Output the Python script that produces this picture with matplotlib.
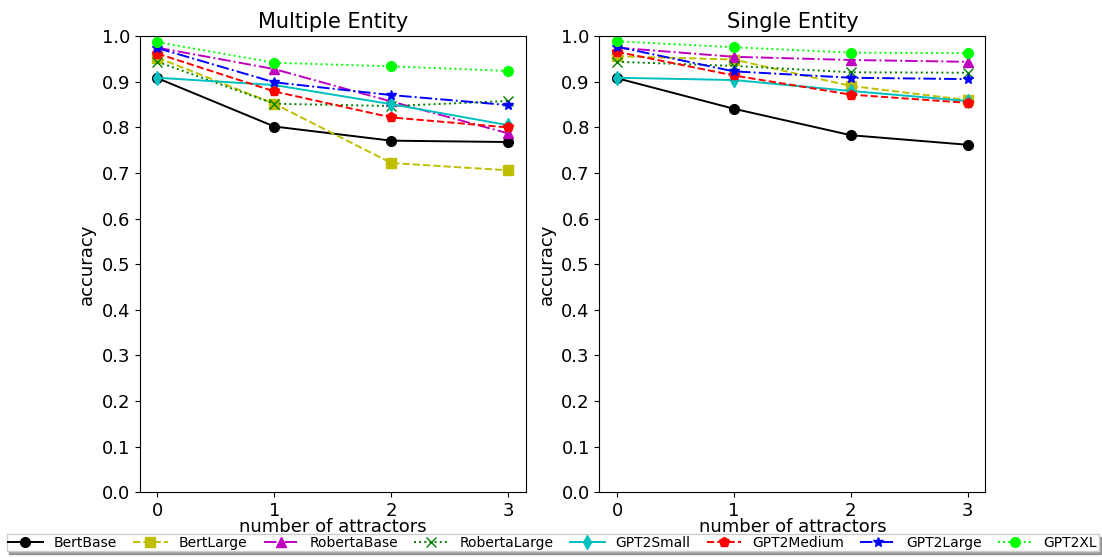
import numpy as np
import matplotlib.pyplot as plt

# accuracy vs number of attractors
attractors = [0, 1, 2, 3]
models = ['BertBase', 'BertLarge', 'RobertaBase', 'RobertaLarge',
          'GPT2Small', 'GPT2Medium', 'GPT2Large', 'GPT2XL']

multi_bert_base = [0.908, 0.802, 0.771, 0.768]
multi_bert_large = [0.953, 0.852, 0.722, 0.706]
multi_roberta_base = [0.975, 0.928, 0.857, 0.787]
multi_roberta_large = [0.944, 0.852, 0.847, 0.858]
multi_gpt2_small = [0.909, 0.893, 0.851, 0.805]
multi_gpt2_medium = [0.962, 0.879, 0.822, 0.800]
multi_gpt2_large = [0.974, 0.899, 0.871, 0.849]
multi_gpt2_xl = [0.987, 0.942, 0.934, 0.924]

single_bert_base = [0.908, 0.841, 0.783, 0.762]
single_bert_large = [0.956, 0.949, 0.891, 0.860]
single_roberta_base = [0.975, 0.955, 0.948, 0.944]
single_roberta_large = [0.944, 0.935, 0.921, 0.920]
single_gpt2_small = [0.909, 0.904, 0.880, 0.858]
single_gpt2_medium = [0.966, 0.914, 0.872, 0.854]
single_gpt2_large = [0.977, 0.923, 0.909, 0.906]
single_gpt2_xl = [0.989, 0.976, 0.964, 0.963]

multi = [multi_bert_base, multi_bert_large, multi_roberta_base, multi_roberta_large,
         multi_gpt2_small, multi_gpt2_medium, multi_gpt2_large, multi_gpt2_xl]
single = [single_bert_base, single_bert_large, single_roberta_base, single_roberta_large,
          single_gpt2_small, single_gpt2_medium, single_gpt2_large, single_gpt2_xl]

styles = [('k', 'o', '-'), ('y', 's', '--'), ('m', '^', '-.'), ('g', 'x', ':'),
          ('c', 'd', '-'), ('r', 'p', '--'), ('b', '*', '-.'), ('lime', 'o', ':')]

fig = plt.figure(figsize=(11.02, 5.58), dpi=100)
ax1 = fig.add_axes([0.127, 0.118, 0.350, 0.817])
ax2 = fig.add_axes([0.544, 0.118, 0.350, 0.817])

for ax, data, title in [(ax1, multi, 'Multiple Entity'), (ax2, single, 'Single Entity')]:
    for vals, name, (c, m, ls) in zip(data, models, styles):
        ax.plot(attractors, vals, color=c, marker=m, linestyle=ls, label=name,
                markersize=7, linewidth=1.4)
    ax.set_title(title, fontsize=15)
    ax.set_ylim(0, 1.0)
    ax.set_yticks(np.arange(0, 1.01, 0.1))
    ax.set_xticks(attractors)
    ax.tick_params(labelsize=13)
    ax.set_xlabel('number of attractors', fontsize=13, labelpad=-1)
    ax.set_ylabel('accuracy', fontsize=13)

handles, labels = ax1.get_legend_handles_labels()
fig.legend(handles, labels, loc='lower left', ncol=8, mode='expand', shadow=True,
           bbox_to_anchor=(0.006, 0.0125, 0.991, 0.029), fontsize=10,
           borderaxespad=0, borderpad=0.1, handlelength=2.5, handletextpad=0.8,
           fancybox=False)

fig.savefig('out.png', dpi=100)
